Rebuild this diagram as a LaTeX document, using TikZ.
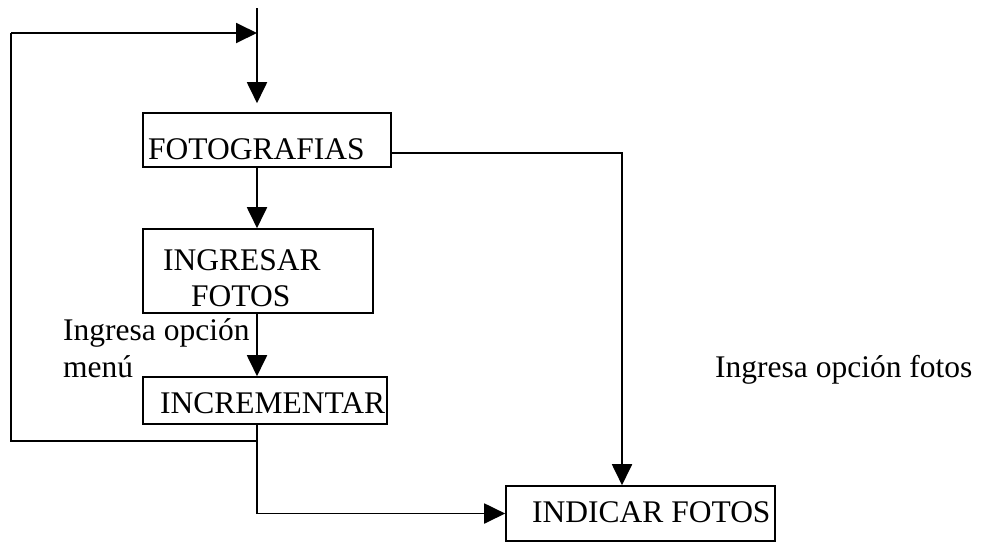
\documentclass[tikz,border=0pt]{standalone}
\usepackage{fontspec}
\setmainfont{Liberation Serif}
\usetikzlibrary{arrows.meta}
\begin{document}
\begin{tikzpicture}[x=1pt,y=-1pt,
  box/.style={draw,line width=1.6pt,inner sep=0pt},
  txt/.style={anchor=base west,inner sep=0pt,font=\fontsize{31.5}{36}\selectfont},
  conn/.style={line width=1.9pt},
  arr/.style={conn,-{Triangle[length=21pt,width=20pt]}}]
\useasboundingbox (0,0) rectangle (981,542);
% boxes
\node[box,minimum width=248pt,minimum height=54pt] (foto) at (267,140) {};
\node[box,minimum width=230pt,minimum height=84pt] (ing) at (258,271) {};
\node[box,minimum width=244pt,minimum height=47pt] (incr) at (265,400.5) {};
\node[box,minimum width=269pt,minimum height=55pt] (indic) at (640.5,513.5) {};
% texts
\node[txt] (tfoto) at (148,159) {FOTOGRAFIAS};
\node[txt] (ting1) at (163,270) {INGRESAR};
\node[txt] (ting2) at (191,306) {FOTOS};
\node[txt] (tincr) at (160,413) {INCREMENTAR};
\node[txt] (tindic) at (532,522) {INDICAR FOTOS};
\node[txt] (lab1) at (63,340) {Ingresa opción};
\node[txt] (lab2) at (63,377) {menú};
\node[txt] (lab3) at (715,377) {Ingresa opción fotos};
% coordinates
\coordinate (top) at (257,8);
\coordinate (merge) at (257,33);
\coordinate (j) at (257,441);
\coordinate (lb) at (11,441);
\coordinate (lt) at (11,33);
\coordinate (fr) at (foto.east |- 0,153);
\coordinate (corner) at (622,153);
% connectors
\draw[arr,shorten >=9pt] (top) -- (merge) -- (foto.north -| top);
\draw[arr] (foto.south -| top) -- (ing.north -| top);
\draw[arr] (ing.south -| top) -- (incr.north -| top);
\draw[conn] (incr.south -| top) -- (j) -- (lb) -- (lt);
\draw[arr] (lt) -- (merge);
\draw[arr] (j) |- (indic.west);
\draw[arr] (fr) -- (corner) -- (indic.north -| corner);
\end{tikzpicture}
\end{document}
